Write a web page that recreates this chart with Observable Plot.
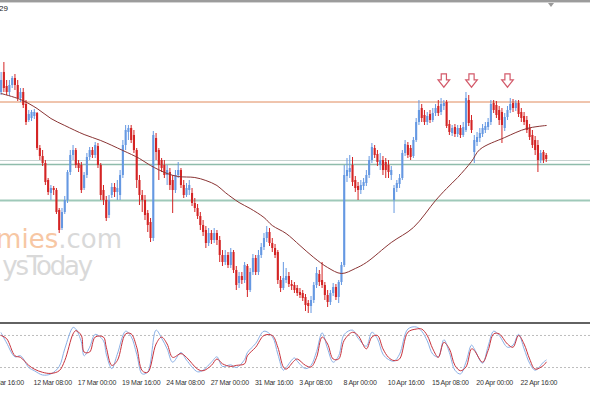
<!DOCTYPE html>
<html><head><meta charset="utf-8">
<script src="https://cdn.jsdelivr.net/npm/d3@7"></script>
<script src="https://cdn.jsdelivr.net/npm/@observablehq/plot@0.6"></script>
<style>
body{margin:0;background:#fff;}
#wrap{position:relative;width:590px;height:393px;overflow:hidden;background:#fff;font-family:'Liberation Sans',sans-serif;}
#topbar{position:absolute;left:0;top:0;width:590px;height:2px;background:#9c9c9c;}
#topbar2{position:absolute;left:0;top:2px;width:590px;height:1px;background:#d4d4d4;}
#shift{position:absolute;left:548px;top:3px;width:0;height:0;border-left:3.5px solid transparent;border-right:3.5px solid transparent;border-top:4px solid #9a9a9a;}
#title{position:absolute;left:-1px;top:4px;font-size:8px;color:#222;}
.wm{position:absolute;font-family:'DejaVu Sans',sans-serif;font-size:26px;line-height:26px;color:#d9d9d9;white-space:nowrap;}
#wm1{right:468px;top:226px;}
#wm2{right:499px;top:253px;letter-spacing:-2.2px;}
#wm1 .o{color:#f7c7a4;}
#main{position:absolute;left:0;top:0;}
#sep{position:absolute;left:0;top:322px;width:590px;height:2px;background:#626262;}
#osc{position:absolute;left:0;top:321px;}
</style></head><body>
<div id="wrap">
  <div class="wm" id="wm1"><span class="o">mies</span>.com</div>
  <div class="wm" id="wm2">ysToday</div>
  <div id="topbar"></div><div id="topbar2"></div>
  <div id="shift"></div>
  <div id="title">29</div>
  <div id="main"></div>
  <div id="osc"></div>
  <div id="sep"></div>
</div>
<script>
// Candles (index = H4 bar number), values in chart points
const opens = [228,248,234,228,235,242,235,222,228,216, 200,202,204,207,172,164,157,140,127,132,
 130,110,92,108,120,148,165,170,157,155, 132,145,163,170,165,174,155,130,120,105,
 125,133,128,125,145,175,188,192,185,170, 140,125,120,107,98,82,182,170,160,155,
 145,148,140,130,145,150,135,125,130,127, 117,112,104,95,90,77,87,80,87,80,
 65,58,65,55,68,50,37,44,40,54, 30,48,62,48,65,73,82,88,77,72,
 68,40,32,40,44,36,35,32,28,27, 23,17,14,20,35,46,40,35,25,18,
 27,33,23,38,55,144,148,155,140,134, 130,134,137,145,160,172,166,155,160,158,
 155,145,120,132,136,142,167,175,172,164, 180,198,212,205,198,206,200,207,214,208,
 214,218,196,187,193,186,192,185,190,220, 200,168,178,182,186,190,193,198,217,215,
 210,208,192,203,210,217,212,217,208,204, 200,192,185,180,175,160,168,165];
const highs = [248,258,240,240,244,246,240,232,232,220, 210,210,211,208,175,170,160,142,135,134,
 132,112,112,124,150,170,175,172,160,158, 148,167,173,173,178,177,157,135,124,125,
 137,137,140,150,180,195,195,195,190,172, 145,130,125,110,102,189,187,172,162,160,
 155,152,145,150,158,152,140,137,140,132, 122,116,108,100,94,92,90,92,90,84,
 70,70,68,72,70,54,48,48,58,56, 52,66,65,70,77,87,94,92,82,76,
 70,44,58,52,48,40,38,35,32,30, 26,20,24,38,53,50,58,38,30,30,
 37,36,40,58,155,162,165,163,144,138, 140,142,150,164,177,175,170,167,164,162,
 160,154,135,140,146,170,180,178,175,183, 202,220,216,210,208,210,212,216,220,222,
 220,220,200,195,196,195,195,198,228,225, 205,185,188,192,196,198,202,220,220,219,
 214,212,207,214,222,221,220,220,212,208, 204,196,190,184,180,170,170,167];
const lows = [225,228,225,224,232,230,219,218,212,195, 198,199,201,170,160,154,135,125,120,125,
 106,87,90,106,117,145,160,152,148,127, 130,142,160,162,162,152,120,115,99,102,
 122,123,120,120,142,170,180,177,167,132, 115,108,100,88,78,79,160,140,148,142,
 135,130,107,127,142,132,122,123,125,114, 108,101,90,84,72,74,76,77,75,58,
 54,55,52,52,47,30,32,36,37,23, 28,45,45,45,62,70,78,74,68,62,
 36,28,30,37,33,30,27,24,22,19, 9,7,7,17,32,34,32,20,13,15,
 24,20,17,35,53,138,142,134,128,120, 126,130,134,142,157,162,154,150,145,142,
 142,140,107,128,132,140,164,162,160,162, 178,195,198,195,195,197,198,204,204,205,
 210,192,185,184,183,183,182,183,188,194, 187,157,174,178,183,187,190,195,207,202,
 195,177,189,200,207,208,209,203,198,195, 187,180,172,165,148,157,157,158];
const closes = [240,232,228,235,242,235,222,228,215,198, 206,208,208,172,164,157,138,128,132,130,
 108,90,108,120,148,165,170,155,152,130, 145,163,170,165,175,155,125,120,102,120,
 133,128,132,145,175,190,192,180,170,140, 125,120,105,95,82,185,168,155,152,145,
 150,135,130,145,150,135,125,132,135,117, 112,104,95,88,77,87,80,87,80,65,
 58,65,55,68,50,35,44,40,55,30, 48,62,48,65,73,82,88,77,72,65,
 40,32,42,44,36,34,30,27,25,22, 15,14,20,35,47,38,35,25,18,27,
 33,23,38,55,145,150,152,138,132,130, 135,138,145,160,173,165,158,160,150,150,
 148,150,132,137,142,167,176,165,163,180, 198,210,202,198,204,200,207,212,207,216,
 217,194,188,192,186,192,185,193,222,197, 190,180,183,187,192,194,198,216,210,205,
 200,195,203,210,216,212,217,206,202,198, 190,183,175,170,160,167,160,161];

// Moving average read at selected bars
const maBar = [0,7,13,18,23,30,36,44,50,54,60,64,70,74,78,81,86,90,95,98,103,108,113,118,123,128,132,141,149,157,161,165,170,173,182,190,197];
const maValue = [227,221,212,202,195,186,180,170,162,155,147,144,143,140,135,128,118,112,103,95,87,75,63,53,47,52,58,78,93,120,132,143,159,171,183,192,195];

// Horizontal levels
const levelValues = [218.5, 160, 156, 120];
// Arrows above the three peaks
const arrowBars = [160, 170, 183];
const arrowLevel = 240;

// Stochastic oscillator
const stochBar = [0,2,5,7,10,12,15,18,21,23,26,27,29,30,32,34,37,38,40,42,45,47,49,51,53,56,58,60,62,65,67,71,73,76,78,80,83,85,88,89,92,95,98,100,102,103,106,107,110,112,114,116,118,120,122,124,127,129,132,134,136,138,140,142,144,147,150,152,154,156,158,160,162,164,166,168,170,171,174,176,178,180,183,185,187,189,191,193,196,197];
const stochSignal = [80,74,42,39,24,17,11,9,14,33,83,89,80,49,49,77,77,58,24,33,83,83,58,14,11,64,77,64,39,46,39,17,14,24,36,27,22,24,27,42,58,80,80,58,21,17,33,36,24,21,39,77,64,36,36,71,86,80,55,77,80,55,39,33,36,86,92,92,80,55,39,67,55,24,14,21,55,52,30,52,83,83,64,58,80,64,36,17,24,30];
const stochMain = [85,66,40,42,20,14,6,8,22,55,95,92,68,42,58,82,70,45,18,45,88,78,45,8,12,90,75,55,30,48,34,12,15,30,40,22,25,20,35,48,65,88,78,45,15,20,38,32,18,24,50,85,55,30,42,82,90,75,60,86,74,45,35,32,45,92,96,88,70,45,40,72,48,15,8,30,62,55,28,60,88,80,58,62,82,55,28,15,30,34];
const stochLevels = [20, 80];

// Time axis
const tickBars = [-5,11,27,43,59,75,91,107,123,139,155,171,187];
const tickLabels = ["9 Mar 16:00","12 Mar 08:00","17 Mar 00:00","19 Mar 16:00","24 Mar 08:00","27 Mar 00:00","31 Mar 16:00","3 Apr 08:00","8 Apr 00:00","10 Apr 16:00","15 Apr 08:00","20 Apr 00:00","22 Apr 16:00"];

// ---- build ----
const BLUE = "#6598e2", RED = "#d42424";
const candles = opens.map((o, i) => ({i, o, h: highs[i], l: lows[i], c: closes[i]}));
const ups = candles.filter(d => d.c >= d.o);
const downs = candles.filter(d => d.c < d.o);
const ma = maBar.map((b, k) => ({b, v: maValue[k]}));
const arrows = arrowBars.map(b => ({b, v: arrowLevel}));
const stoch = stochBar.map((b, k) => ({b, main: stochMain[k], signal: stochSignal[k]}));
const tickMap = new Map(tickBars.map((b, k) => [b, tickLabels[k]]));
const levelStyle = [
  {stroke: "#e08a5c", w: 1},
  {stroke: "#c6d2d0", w: 1},
  {stroke: "#8fbcab", w: 1.5},
  {stroke: "#9fc9b9", w: 2}
];
const arrowSymbol = {
  draw(ctx, size) {
    const s = Math.sqrt(size / Math.PI) / 7;
    ctx.moveTo(-2.6*s, -6.7*s);
    ctx.lineTo(2.6*s, -6.7*s);
    ctx.lineTo(2.6*s, -0.6*s);
    ctx.lineTo(5.8*s, -0.6*s);
    ctx.lineTo(0, 6.7*s);
    ctx.lineTo(-5.8*s, -0.6*s);
    ctx.lineTo(-2.6*s, -0.6*s);
    ctx.closePath();
  }
};
const xDomain = [-0.22, 213];

const main = Plot.plot({
  width: 590, height: 321,
  marginLeft: 0, marginRight: 0, marginTop: 0, marginBottom: 0,
  style: "background:transparent;",
  x: {type: "linear", domain: xDomain, range: [0, 590], axis: null},
  y: {domain: [-1, 320], range: [321, 0], axis: null},
  marks: [
    ...levelValues.map((v, k) => Plot.ruleY([v], {stroke: levelStyle[k].stroke, strokeWidth: levelStyle[k].w})),
    Plot.ruleX(ups, {x: "i", y1: "l", y2: "h", stroke: BLUE, strokeWidth: 1}),
    Plot.ruleX(downs, {x: "i", y1: "l", y2: "h", stroke: RED, strokeWidth: 1}),
    Plot.ruleX(ups, {x: "i", y1: "o", y2: "c", stroke: BLUE, strokeWidth: 2.1}),
    Plot.ruleX(downs, {x: "i", y1: "o", y2: "c", stroke: RED, strokeWidth: 2.1}),
    Plot.line(ma, {x: "b", y: "v", stroke: "#8a3434", strokeWidth: 1, curve: "catmull-rom"}),
    Plot.dot(arrows, {x: "b", y: "v", r: 7, symbol: arrowSymbol, stroke: "#d35a6a", fill: "white", strokeWidth: 1.2})
  ]
});
document.getElementById("main").appendChild(main);

const osc = Plot.plot({
  width: 590, height: 72,
  marginLeft: 0, marginRight: 0, marginTop: 0, marginBottom: 15,
  style: "background:transparent; font-family:'Liberation Sans',sans-serif; font-size:7px; letter-spacing:-0.25px; color:#333;",
  x: {type: "linear", domain: xDomain, range: [0, 590], label: null},
  y: {domain: [0, 100], range: [56.7, 3.3], axis: null, label: null},
  marks: [
    Plot.ruleY(stochLevels, {stroke: "#bdbdbd", strokeDasharray: "2,2"}),
    Plot.line(stoch, {x: "b", y: "main", stroke: "#8ab0e6", strokeWidth: 1, curve: "catmull-rom"}),
    Plot.line(stoch, {x: "b", y: "signal", stroke: "#c8323c", strokeWidth: 1, curve: "catmull-rom"}),
    Plot.axisX({ticks: tickBars, tickFormat: d => tickMap.get(d), label: null, tickSize: 0, tickPadding: 2, textAnchor: "start", dx: 2, fontSize: 7, fill: "#333"})
  ]
});
document.getElementById("osc").appendChild(osc);
</script>
</body></html>
